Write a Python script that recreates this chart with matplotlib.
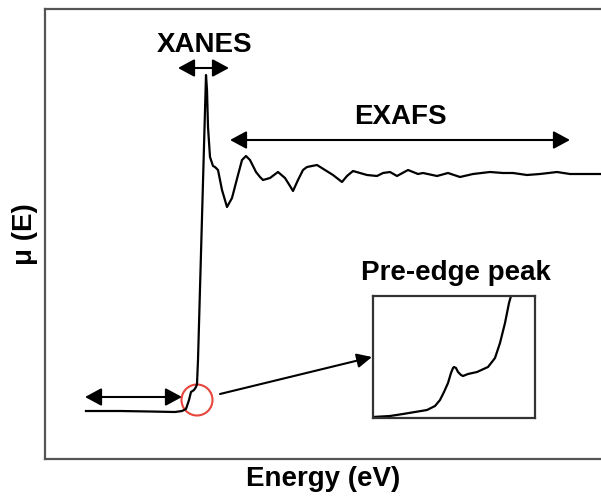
import matplotlib
matplotlib.use("Agg")
import matplotlib.pyplot as plt
from matplotlib.patches import Circle, FancyArrowPatch

plt.rcParams['font.family'] = ['Liberation Sans', 'DejaVu Sans']

# Main XAS spectrum (arbitrary units)
energy = [41, 75, 105, 130, 137, 141, 144, 146, 149, 151, 152, 153, 161,
          162, 163, 165, 168, 170, 173, 177, 182, 187, 193, 197, 201, 205, 211, 215, 218,
          225, 233, 240, 245, 248, 253, 258, 262, 272, 280, 288, 297, 302, 308, 315, 322,
          332, 338, 345, 352, 363, 373, 378, 392, 403, 415, 428, 445, 458, 468, 482, 495,
          512, 525, 538, 556]
mu = [48, 48, 47.5, 47, 48, 50, 59, 67, 69, 72, 75, 99, 384,
      369, 332, 302, 293, 292, 289, 269, 252, 261, 284, 299, 303, 299, 287, 282, 279,
      281, 287, 281, 273, 268, 279, 289, 292, 294, 289, 284, 277, 283, 288, 286, 284,
      283, 286, 287, 283, 289, 285, 286, 283, 286, 282, 285, 287, 286, 286, 284, 285,
      287, 285, 285, 285]

# Zoomed pre-edge region (inset, arbitrary units)
inset_energy = [0, 17, 30, 42, 54, 62, 67, 71, 75, 78, 80, 81, 83, 85, 88, 90, 95, 104,
                115, 122, 127, 132, 136, 138]
inset_mu = [1, 2, 4, 6, 8, 12, 18, 26, 35, 45, 50, 51, 50, 46, 43, 42, 44, 46,
            51, 60, 75, 95, 115, 122]

labels = {"xanes": "XANES", "exafs": "EXAFS", "pre": "Pre-edge peak",
          "x": "Energy (eV)", "y": "\u03bc (E)"}

W, H = 601, 496
fig = plt.figure(figsize=(W / 100, H / 100), dpi=100)
ax = fig.add_axes([45 / W, (H - 459) / H, (W - 45) / W, 450 / H])
ax.set_xlim(0, 556)
ax.set_ylim(0, 450)
ax.set_xticks([])
ax.set_yticks([])
for s in ['left', 'top', 'bottom']:
    ax.spines[s].set_color('#555555')
    ax.spines[s].set_linewidth(1.6)
ax.spines['right'].set_visible(False)

ax.plot(energy, mu, color='black', lw=1.6, solid_joinstyle='round')

fs = 20
ax.set_xlabel(labels["x"], fontsize=fs, fontweight='bold', labelpad=5)
ax.set_ylabel(labels["y"], fontsize=fs, fontweight='bold', labelpad=5)

def arrow(x0, y0, x1, y1, style, ms):
    a = FancyArrowPatch((x0, y0), (x1, y1), arrowstyle=style, mutation_scale=ms,
                        color='black', lw=1.5, shrinkA=0, shrinkB=0)
    ax.add_patch(a)

# XANES
arrow(133, 391, 184, 391, '<|-|>,head_length=0.5,head_width=0.27', 20)
ax.text(160, 414, labels["xanes"], fontsize=fs, fontweight='bold', ha='center', va='center')
# EXAFS
arrow(185, 319, 525, 319, '<|-|>,head_length=0.5,head_width=0.27', 20)
ax.text(355, 342, labels["exafs"], fontsize=fs, fontweight='bold', ha='center', va='center')
# pre-edge region
arrow(40, 62, 137, 62, '<|-|>,head_length=0.5,head_width=0.27', 20)

# red circle
ax.add_patch(Circle((152, 59), 15.5, fill=False, ec='#e8463c', lw=1.5))
# pointer to inset
arrow(175, 65, 327, 102, '-|>,head_length=0.5,head_width=0.24', 18)

ax.text(411, 186, labels["pre"], fontsize=fs, fontweight='bold', ha='center', va='center')

# inset
axin = fig.add_axes([373 / W, (H - 418) / H, 162 / W, 122 / H])
axin.set_xlim(0, 162)
axin.set_ylim(0, 122)
axin.set_xticks([])
axin.set_yticks([])
for s in axin.spines.values():
    s.set_color('#333333')
    s.set_linewidth(1.6)
axin.plot(inset_energy, inset_mu, color='black', lw=1.6, solid_joinstyle='round')

fig.savefig('out.png', dpi=100)
